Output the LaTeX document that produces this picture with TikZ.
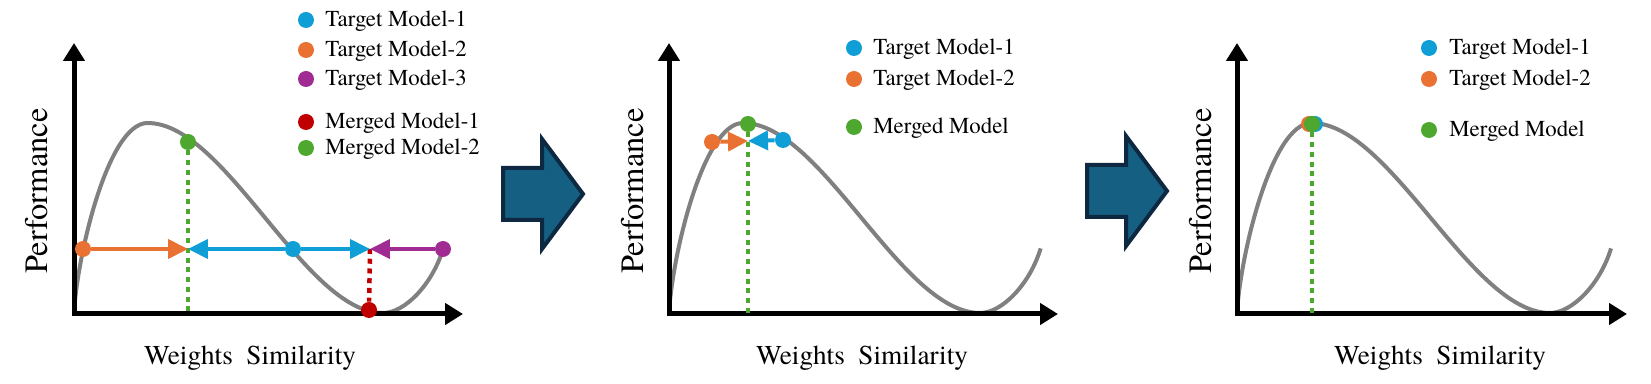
\documentclass[tikz,border=0pt]{standalone}
\usepackage{fontspec}
\setmainfont{TeX Gyre Termes}
\usepackage{tikz}
\usetikzlibrary{arrows.meta,positioning}
\usepackage{xcolor}

\definecolor{tmblue}{HTML}{0F9ED5}
\definecolor{tmorange}{HTML}{E97132}
\definecolor{tmpurple}{HTML}{A02B93}
\definecolor{mmred}{HTML}{C00000}
\definecolor{mmgreen}{HTML}{4EA72E}
\definecolor{curvegray}{HTML}{808080}
\definecolor{stepfill}{HTML}{156082}
\definecolor{stepedge}{HTML}{0E2841}

\begin{document}
\begin{tikzpicture}[x=0.02cm, y=-0.02cm,
  axisline/.style={line width=0.1cm, arrows={Triangle[length=0.36cm,width=0.42cm]-Triangle[length=0.36cm,width=0.42cm]}},
  landscape/.style={line width=0.08cm, curvegray},
  mdot/.style={circle, fill=#1, inner sep=0pt, minimum size=0.32cm},
  shiftarrow/.style={line width=0.08cm, #1, -{Triangle[length=0.4cm,width=0.38cm]}},
  dropline/.style={line width=0.09cm, #1, dash pattern=on 0.1cm off 0.095cm},
  legtext/.style={anchor=base west, inner sep=0pt, font=\fontsize{13}{15}\selectfont},
  ylab/.style={rotate=90, inner sep=0pt, font=\fontsize{18.5}{20}\selectfont},
  xlab/.style={inner sep=0pt, font=\fontsize{15.5}{18}\selectfont}]
  \useasboundingbox (0,0) rectangle (1651,384);

  % three panels: axes, curve and axis labels
  \foreach \i/\ox/\sx/\xe/\px/\qx in {1/74/309/463/37/250, 2/669/311/1058/633/862, 3/1237/313/1627/1201/1440} {
    \draw[landscape, shift={(\ox,313)}, xscale=\sx, yscale=-190]
      (0,0) .. controls (0.01,0.3) and (0.11,1) .. (0.238,1)
      .. controls (0.492,1) and (0.746,0) .. (1,0)
      .. controls (1.07,0) and (1.16,0.15) .. (1.195,0.34);
    \draw[axisline] (\ox,43) -- (\ox,314) -- (\xe,314);
    \node[ylab] (perf\i) at (\px,191) {Performance};
    \node[xlab] (sim\i) at (\qx,358) {Weights\ \ Similarity};
  }

  % block arrows between panels
  \foreach \ax/\ay in {503/194, 1087/191}
    \draw[stepedge, fill=stepfill, line width=0.08cm]
      (\ax,\ay-26) -- (\ax+39,\ay-26) -- (\ax+39,\ay-55) -- (\ax+80,\ay)
      -- (\ax+39,\ay+55) -- (\ax+39,\ay+26) -- (\ax,\ay+26) -- cycle;

  % panel 1
  \node[mdot=tmorange] (o1) at (83,249) {};
  \node[mdot=mmgreen] (g1) at (188,142) {};
  \node[mdot=tmblue] (b1) at (293,249) {};
  \node[mdot=tmpurple] (u1) at (443,249) {};
  \node[mdot=mmred] (r1) at (369,310) {};
  \coordinate (m1) at (188,249);
  \coordinate (m2) at (370,249);
  \coordinate (g1b) at (188,313);
  \draw[dropline=mmgreen] (g1) -- (g1b);
  \draw[dropline=mmred] (m2) -- (r1);
  \draw[shiftarrow=tmorange] (o1) -- (m1);
  \draw[shiftarrow=tmblue] (b1) -- (m1);
  \draw[shiftarrow=tmblue] (b1) -- (m2);
  \draw[shiftarrow=tmpurple] (u1) -- (m2);
  \foreach \k/\y/\c/\t in {a/20/tmblue/Target Model-1, b/50/tmorange/Target Model-2,
      c/79/tmpurple/Target Model-3, d/122/mmred/Merged Model-1, e/148/mmgreen/Merged Model-2} {
    \node[mdot=\c] (k1\k) at (306,\y) {};
    \node[legtext] (t1\k) at ([xshift=0.38cm,yshift=-0.14cm]k1\k.center) {\t};
  }

  % panel 2
  \node[mdot=tmorange] (o2) at (712,142) {};
  \node[mdot=tmblue] (b2) at (783,140) {};
  \node[mdot=mmgreen] (g2) at (748,124) {};
  \coordinate (m3) at (748,141);
  \coordinate (g2b) at (748,313);
  \draw[dropline=mmgreen] (g2) -- (g2b);
  \draw[shiftarrow=tmorange] (o2) -- (m3);
  \draw[shiftarrow=tmblue] (b2) -- (m3);
  \foreach \k/\y/\c/\t in {a/48/tmblue/Target Model-1, b/79/tmorange/Target Model-2,
      c/127/mmgreen/Merged Model} {
    \node[mdot=\c] (k2\k) at (854,\y) {};
    \node[legtext] (t2\k) at ([xshift=0.38cm,yshift=-0.14cm]k2\k.center) {\t};
  }

  % panel 3
  \node[mdot=tmorange] (o3) at (1309,124) {};
  \node[mdot=tmblue] (b3) at (1315,124) {};
  \node[mdot=mmgreen] (g3) at (1312,124) {};
  \coordinate (g3b) at (1312,313);
  \draw[dropline=mmgreen] (g3) -- (g3b);
  \foreach \k/\y/\c/\t in {a/48/tmblue/Target Model-1, b/79/tmorange/Target Model-2,
      c/130/mmgreen/Merged Model} {
    \node[mdot=\c] (k3\k) at (1429,\y) {};
    \node[legtext] (t3\k) at ([xshift=0.4cm,yshift=-0.14cm]k3\k.center) {\t};
  }
\end{tikzpicture}
\end{document}
